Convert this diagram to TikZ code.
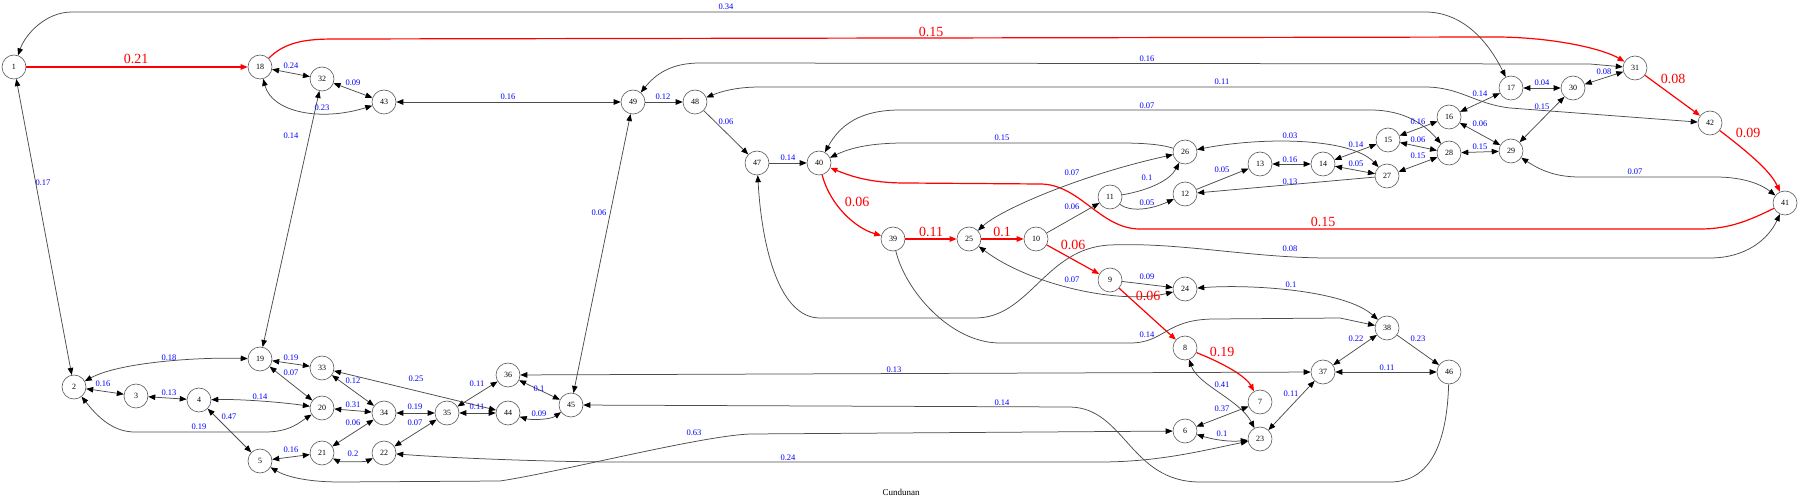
\documentclass[tikz,border=0pt]{standalone}
\usepackage{fontspec}
\setmainfont{Liberation Serif}
\usetikzlibrary{arrows.meta}
\begin{document}
\begin{tikzpicture}[x=1pt,y=-1pt,
  vtx/.style={circle,draw=black!65,line width=0.6pt,minimum size=24pt,inner sep=0pt,font=\fontsize{8}{9}\selectfont},
  edg/.style={draw=black!70,line width=0.75pt,>={Triangle[length=7pt,width=5.5pt,color=black]}},
  redg/.style={draw=red,line width=1.2pt,>={Triangle[length=7pt,width=5.5pt,color=red]}},
  lbl/.style={text=blue,font=\fontsize{8.5}{9}\selectfont,inner sep=0pt},
  rlbl/.style={text=red,font=\fontsize{14}{15}\selectfont,inner sep=0pt}]
\useasboundingbox (0,0) rectangle (1800,502);
% nodes
\node[vtx] (n1) at (14,67) {1};
\node[vtx] (n18) at (260,67) {18};
\node[vtx] (n32) at (322,79) {32};
\node[vtx] (n43) at (384,102) {43};
\node[vtx] (n49) at (633,102) {49};
\node[vtx] (n48) at (695,102) {48};
\node[vtx] (n47) at (757,163) {47};
\node[vtx] (n40) at (819,163) {40};
\node[vtx] (n39) at (893,239) {39};
\node[vtx] (n25) at (969,239) {25};
\node[vtx] (n10) at (1036,239) {10};
\node[vtx] (n11) at (1110,197) {11};
\node[vtx] (n26) at (1185,152) {26};
\node[vtx] (n12) at (1185,194) {12};
\node[vtx] (n13) at (1260,164) {13};
\node[vtx] (n14) at (1323,164) {14};
\node[vtx] (n15) at (1388,140) {15};
\node[vtx] (n27) at (1387,176) {27};
\node[vtx] (n16) at (1449,117) {16};
\node[vtx] (n28) at (1449,153) {28};
\node[vtx] (n17) at (1511,88) {17};
\node[vtx] (n30) at (1573,88) {30};
\node[vtx] (n31) at (1635,68) {31};
\node[vtx] (n42) at (1710,123) {42};
\node[vtx] (n29) at (1511,151) {29};
\node[vtx] (n41) at (1785,203) {41};
\node[vtx] (n2) at (74,387) {2};
\node[vtx] (n3) at (136,396) {3};
\node[vtx] (n4) at (199,400) {4};
\node[vtx] (n19) at (260,359) {19};
\node[vtx] (n5) at (260,461) {5};
\node[vtx] (n33) at (322,368) {33};
\node[vtx] (n20) at (322,408) {20};
\node[vtx] (n21) at (322,453) {21};
\node[vtx] (n34) at (384,413) {34};
\node[vtx] (n22) at (384,453) {22};
\node[vtx] (n35) at (447,413) {35};
\node[vtx] (n36) at (508,375) {36};
\node[vtx] (n44) at (508,413) {44};
\node[vtx] (n45) at (571,405) {45};
\node[vtx] (n9) at (1110,280) {9};
\node[vtx] (n24) at (1185,289) {24};
\node[vtx] (n8) at (1185,348) {8};
\node[vtx] (n6) at (1185,431) {6};
\node[vtx] (n7) at (1260,402) {7};
\node[vtx] (n23) at (1260,439) {23};
\node[vtx] (n37) at (1323,372) {37};
\node[vtx] (n38) at (1387,328) {38};
\node[vtx] (n46) at (1449,372) {46};
% red edges
\draw[redg,->] (n1) -- (n18);
\draw[redg,->] (n18) .. controls (285,42) and (305,39) .. (335,39) -- (1500,37) .. controls (1560,38) and (1605,50) .. (n31);
\draw[redg,->] (n40) .. controls (830,205) and (855,228) .. (n39);
\draw[redg,->] (n39) -- (n25);
\draw[redg,->] (n25) -- (n10);
\draw[redg,->] (n10) -- (n9);
\draw[redg,->] (n9) -- (n8);
\draw[redg,->] (n8) .. controls (1220,362) and (1245,375) .. (n7);
\draw[redg,->] (n41) .. controls (1750,220) and (1730,229) .. (1700,229) -- (1140,229) .. controls (1100,229) and (1080,184) .. (1040,184) -- (905,183) .. controls (870,183) and (850,176) .. (n40);
\draw[redg,->] (n31) -- (n42);
\draw[redg,->] (n42) .. controls (1745,150) and (1770,170) .. (n41);
% gray edges
\draw[edg,<->] (n1) .. controls (25,35) and (45,12) .. (72,12) -- (1425,12) .. controls (1465,12) and (1490,45) .. (n17);
\draw[edg,<->] (n18) -- (n32);
\draw[edg,<->] (n18) .. controls (272,112) and (320,122) .. (n43);
\draw[edg,<->] (n32) -- (n43);
\draw[edg,<->] (n19) -- (n32);
\draw[edg,<->] (n43) -- (n49);
\draw[edg,->] (n49) -- (n48);
\draw[edg,->] (n48) -- (n47);
\draw[edg,->] (n47) -- (n40);
\draw[edg,<->] (n49) .. controls (655,75) and (670,63) .. (700,63) -- (1590,64) -- (n31);
\draw[edg,<->] (n48) .. controls (720,92) and (735,87) .. (760,87) -- (1425,87) .. controls (1460,87) and (1475,104) .. (1510,108) -- (n42);
\draw[edg,<->] (n40) .. controls (840,125) and (860,110) .. (900,110) -- (1370,110) .. controls (1405,110) and (1425,125) .. (n28);
\draw[edg,->] (n26) .. controls (1160,144) and (1140,143) .. (1120,143) -- (905,143) .. controls (870,143) and (850,148) .. (n40);
\draw[edg,->] (n10) -- (n11);
\draw[edg,->] (n11) .. controls (1150,190) and (1170,180) .. (n26);
\draw[edg,->] (n11) .. controls (1130,212) and (1150,210) .. (n12);
\draw[edg,<->] (n25) .. controls (1000,210) and (1080,175) .. (n26);
\draw[edg,->] (n12) -- (n13);
\draw[edg,<->] (n13) -- (n14);
\draw[edg,<->] (n14) -- (n15);
\draw[edg,<->] (n14) -- (n27);
\draw[edg,->] (n27) -- (n12);
\draw[edg,<->] (n26) .. controls (1260,137) and (1350,137) .. (n27);
\draw[edg,<->] (n15) -- (n16);
\draw[edg,<->] (n15) -- (n28);
\draw[edg,<->] (n27) -- (n28);
\draw[edg,<->] (n16) -- (n17);
\draw[edg,<->] (n16) -- (n29);
\draw[edg,<->] (n28) -- (n29);
\draw[edg,<->] (n17) -- (n30);
\draw[edg,<->] (n30) -- (n31);
\draw[edg,<->] (n30) -- (n29);
\draw[edg,<->] (n29) .. controls (1540,170) and (1555,177) .. (1580,177) -- (1715,177) .. controls (1745,177) and (1762,185) .. (n41);
\draw[edg,<->] (n47) .. controls (762,250) and (780,318) .. (820,318) -- (975,318) .. controls (1030,318) and (1045,248) .. (1110,245) .. controls (1180,242) and (1250,258) .. (1330,258) -- (1710,258) .. controls (1745,258) and (1768,240) .. (n41);
\draw[edg,->] (n9) -- (n24);
\draw[edg,<->] (n25) .. controls (1030,285) and (1120,305) .. (n24);
\draw[edg,->] (n39) .. controls (905,290) and (950,343) .. (1000,343) -- (1130,343) .. controls (1165,343) and (1165,319) .. (1215,319) -- (1340,318) -- (n38);
\draw[edg,<->] (n24) .. controls (1250,284) and (1345,290) .. (n38);
\draw[edg,<->] (n38) -- (n37);
\draw[edg,->] (n38) -- (n46);
\draw[edg,<->] (n37) -- (n46);
\draw[edg,<->] (n36) -- (n37);
\draw[edg,<->] (n37) -- (n23);
\draw[edg,<->] (n8) .. controls (1198,385) and (1240,400) .. (n23);
\draw[edg,<->] (n6) -- (n7);
\draw[edg,<->] (n6) .. controls (1215,440) and (1230,442) .. (n23);
\draw[edg,<->] (n22) .. controls (450,458) and (550,462) .. (620,462) -- (1100,462) .. controls (1160,462) and (1205,450) .. (n23);
\draw[edg,<->] (n5) .. controls (285,476) and (305,482) .. (340,482) -- (500,481) .. controls (560,472) and (700,436) .. (750,434) -- (n6);
\draw[edg,->] (n46) .. controls (1447,440) and (1432,482) .. (1390,482) -- (1200,482) .. controls (1130,482) and (1125,408) .. (1070,407) -- (n45);
\draw[edg,<->] (n45) -- (n49);
\draw[edg,<->] (n45) -- (n36);
\draw[edg,<->] (n44) .. controls (530,420) and (550,420) .. (n45);
\draw[edg,<->] (n35) -- (n36);
\draw[edg,<->] (n35) -- (n44);
\draw[edg,<->] (n33) -- (n44);
\draw[edg,<->] (n34) -- (n35);
\draw[edg,<->] (n35) -- (n22);
\draw[edg,<->] (n33) -- (n34);
\draw[edg,<->] (n20) -- (n34);
\draw[edg,<->] (n21) -- (n34);
\draw[edg,<->] (n21) .. controls (340,462) and (365,462) .. (n22);
\draw[edg,<->] (n19) -- (n33);
\draw[edg,<->] (n19) -- (n20);
\draw[edg,<->] (n4) .. controls (240,399) and (280,402) .. (n20);
\draw[edg,<->] (n2) .. controls (100,420) and (115,432) .. (135,432) -- (265,432) .. controls (290,432) and (300,422) .. (n20);
\draw[edg,<->] (n21) -- (n5);
\draw[edg,<->] (n2) .. controls (120,362) and (200,357) .. (n19);
\draw[edg,<->] (n2) -- (n3);
\draw[edg,<->] (n3) -- (n4);
\draw[edg,<->] (n4) -- (n5);
\draw[edg,<->] (n1) -- (n2);
% red labels
\node[rlbl] (r1) at (136,59) {0.21};
\node[rlbl] (r2) at (931,32) {0.15};
\node[rlbl] (r3) at (857,202) {0.06};
\node[rlbl] (r4) at (931,232) {0.11};
\node[rlbl] (r5) at (1002,232) {0.1};
\node[rlbl] (r6) at (1073,245) {0.06};
\node[rlbl] (r7) at (1148,296) {0.06};
\node[rlbl] (r8) at (1222,352) {0.19};
\node[rlbl] (r9) at (1323,222) {0.15};
\node[rlbl] (r10) at (1673,79) {0.08};
\node[rlbl] (r11) at (1748,133) {0.09};
% blue labels
\node[lbl] (b1) at (726,7) {0.34};
\node[lbl] (b2) at (291,66) {0.24};
\node[lbl] (b3) at (353,83) {0.09};
\node[lbl] (b4) at (322,108) {0.23};
\node[lbl] (b5) at (508,97) {0.16};
\node[lbl] (b6) at (663,97) {0.12};
\node[lbl] (b7) at (726,122) {0.06};
\node[lbl] (b8) at (788,158) {0.14};
\node[lbl] (b9) at (1002,138) {0.15};
\node[lbl] (b10) at (1147,59) {0.16};
\node[lbl] (b11) at (1147,106) {0.07};
\node[lbl] (b12) at (1072,173) {0.07};
\node[lbl] (b13) at (1147,178) {0.1};
\node[lbl] (b14) at (1072,207) {0.06};
\node[lbl] (b15) at (1147,203) {0.05};
\node[lbl] (b16) at (1222,82) {0.11};
\node[lbl] (b17) at (1290,136) {0.03};
\node[lbl] (b18) at (1222,170) {0.05};
\node[lbl] (b19) at (1290,182) {0.13};
\node[lbl] (b20) at (1290,160) {0.16};
\node[lbl] (b21) at (1356,145) {0.14};
\node[lbl] (b22) at (1356,164) {0.05};
\node[lbl] (b23) at (1418,122) {0.16};
\node[lbl] (b24) at (1418,140) {0.06};
\node[lbl] (b25) at (1418,156) {0.15};
\node[lbl] (b26) at (1480,94) {0.14};
\node[lbl] (b27) at (1480,124) {0.06};
\node[lbl] (b28) at (1480,147) {0.15};
\node[lbl] (b29) at (1542,83) {0.04};
\node[lbl] (b30) at (1604,72) {0.08};
\node[lbl] (b31) at (1542,107) {0.15};
\node[lbl] (b32) at (1635,172) {0.07};
\node[lbl] (b33) at (1290,249) {0.08};
\node[lbl] (b34) at (1072,280) {0.07};
\node[lbl] (b35) at (1147,277) {0.09};
\node[lbl] (b36) at (1147,335) {0.14};
\node[lbl] (b37) at (894,370) {0.13};
\node[lbl] (b38) at (1002,403) {0.14};
\node[lbl] (b39) at (1291,285) {0.1};
\node[lbl] (b40) at (1356,339) {0.22};
\node[lbl] (b41) at (1418,339) {0.23};
\node[lbl] (b42) at (1387,368) {0.11};
\node[lbl] (b43) at (1222,385) {0.41};
\node[lbl] (b44) at (1222,409) {0.37};
\node[lbl] (b45) at (1222,434) {0.1};
\node[lbl] (b46) at (1291,394) {0.11};
\node[lbl] (b47) at (694,433) {0.63};
\node[lbl] (b48) at (788,458) {0.24};
\node[lbl] (b49) at (169,358) {0.18};
\node[lbl] (b50) at (103,384) {0.16};
\node[lbl] (b51) at (169,393) {0.13};
\node[lbl] (b52) at (260,397) {0.14};
\node[lbl] (b53) at (229,417) {0.47};
\node[lbl] (b54) at (199,427) {0.19};
\node[lbl] (b55) at (291,450) {0.16};
\node[lbl] (b56) at (291,358) {0.19};
\node[lbl] (b57) at (291,373) {0.07};
\node[lbl] (b58) at (353,381) {0.12};
\node[lbl] (b59) at (416,379) {0.25};
\node[lbl] (b60) at (353,405) {0.31};
\node[lbl] (b61) at (353,423) {0.06};
\node[lbl] (b62) at (415,407) {0.19};
\node[lbl] (b63) at (415,423) {0.07};
\node[lbl] (b64) at (353,454) {0.2};
\node[lbl] (b65) at (477,384) {0.11};
\node[lbl] (b66) at (477,407) {0.11};
\node[lbl] (b67) at (539,389) {0.1};
\node[lbl] (b68) at (539,414) {0.09};
\node[lbl] (b69) at (599,213) {0.06};
\node[lbl] (b70) at (43,183) {0.17};
\node[lbl] (b71) at (291,136) {0.14};
% title
\node[font=\fontsize{9}{10}\selectfont,inner sep=0pt] (title) at (901,492) {Cundunan};
\end{tikzpicture}
\end{document}
